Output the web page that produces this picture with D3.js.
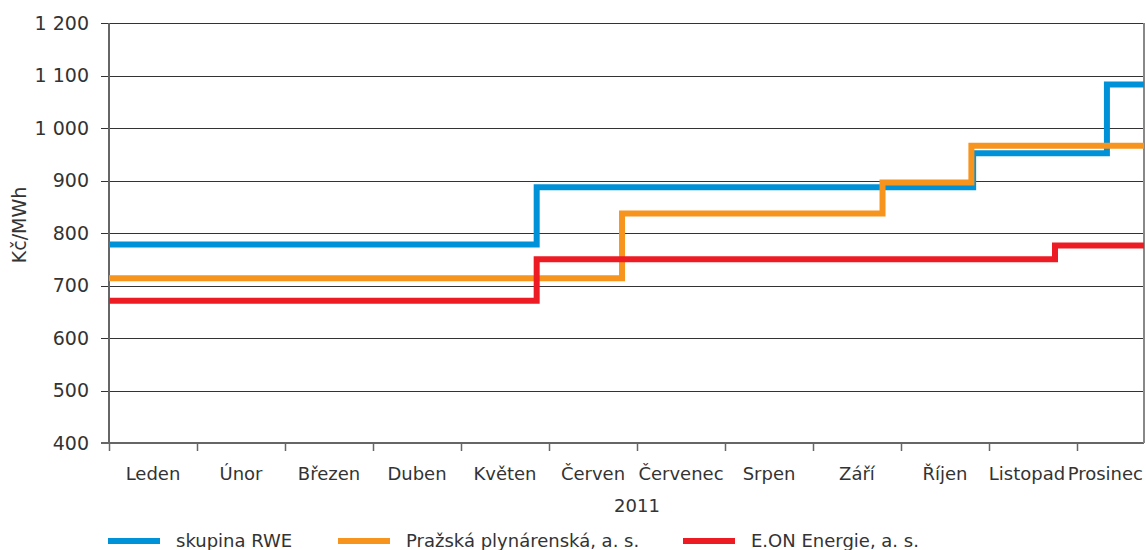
<!DOCTYPE html>
<html>
<head>
<meta charset="utf-8">
<script src="https://cdn.jsdelivr.net/npm/d3@7"></script>
<style>
  body { margin: 0; background: #fff; }
  svg { display: block; }
  svg text { font-family: "DejaVu Sans", sans-serif; }
</style>
</head>
<body>
<div id="chart"></div>
<script>
// Ceny plynu 2011
const months = ['Leden', 'Únor', 'Březen', 'Duben', 'Květen', 'Červen',
                'Červenec', 'Srpen', 'Září', 'Říjen', 'Listopad', 'Prosinec'];
const yTicks = [400, 500, 600, 700, 800, 900, 1000, 1100, 1200];

// body změny ceny (měsíc jako desetinné číslo od 1. ledna)
const rweDates = [0, 4.86, 9.82, 11.34, 12];
const rweValues = [778, 887, 952, 1083, 1083];
const pplDates = [0, 5.83, 8.79, 9.80, 12];
const pplValues = [714, 837, 896, 966, 966];
const eonDates = [0, 4.86, 10.75, 12];
const eonValues = [671, 750, 776, 776];

const seriesNames = ['skupina RWE', 'Pražská plynárenská, a. s.', 'E.ON Energie, a. s.'];
const seriesColors = ['#0092d8', '#f7941d', '#ed1c24'];

const width = 1146;
const height = 550;
const margin = { top: 23, left: 109 };
const chartHeight = 420;
const fullWidth = 1056;      // 12 měsíců
const visibleWidth = 1035;   // graf je vpravo oříznutý

const svg = d3.select('#chart').append('svg')
    .attr('width', width)
    .attr('height', height);

const g = svg.append('g')
    .attr('transform', `translate(${margin.left},${margin.top})`);

const x = d3.scaleLinear().domain([0, 12]).range([0, fullWidth]);
const y = d3.scaleLinear().domain([400, 1200]).range([chartHeight, 0]);

// Mřížka
g.selectAll('.grid')
    .data(yTicks)
    .enter()
    .append('line')
    .attr('class', 'grid')
    .attr('x1', -8)
    .attr('x2', visibleWidth)
    .attr('y1', d => Math.round(y(d)) + 0.5)
    .attr('y2', d => Math.round(y(d)) + 0.5)
    .attr('stroke', d => d === 400 ? '#666' : '#333')
    .attr('stroke-width', 1);

// Osa Y
const yAxis = g.append('g')
    .call(d3.axisLeft(y).tickValues(yTicks).tickSize(0).tickPadding(20)
        .tickFormat(d => d3.format(',')(d).replace(',', ' ')));
yAxis.select('.domain').remove();
yAxis.selectAll('text')
    .attr('fill', '#333')
    .attr('font-family', '"DejaVu Sans", sans-serif')
    .attr('font-size', 19);

// Osa X - čárky na hranicích měsíců
const xAxis = g.append('g')
    .attr('transform', `translate(0,${chartHeight})`)
    .call(d3.axisBottom(x).tickValues(d3.range(0, 12)).tickSize(8).tickFormat(''));
xAxis.select('.domain').remove();
xAxis.selectAll('.tick line').attr('stroke', '#666').attr('stroke-width', 1.5);

// popisky měsíců uprostřed, poslední zarovnaný k pravému okraji
g.selectAll('.month')
    .data(months)
    .enter()
    .append('text')
    .attr('class', 'month')
    .attr('x', (d, i) => i === months.length - 1 ? visibleWidth - 1
        : i === months.length - 2 ? (x(i) + x(i + 1)) / 2 - 6
        : (x(i) + x(i + 1)) / 2)
    .attr('y', chartHeight + 37)
    .attr('text-anchor', (d, i) => i === months.length - 1 ? 'end' : 'middle')
    .attr('fill', '#333')
    .style('font-size', '18px')
    .text(d => d);

// Rámeček os
g.append('line')
    .attr('x1', 0).attr('x2', 0).attr('y1', 0).attr('y2', chartHeight)
    .attr('stroke', '#666').attr('stroke-width', 2);
g.append('line')
    .attr('x1', -8).attr('x2', visibleWidth).attr('y1', chartHeight).attr('y2', chartHeight)
    .attr('stroke', '#666').attr('stroke-width', 2);
g.append('line')
    .attr('x1', visibleWidth).attr('x2', visibleWidth).attr('y1', 0).attr('y2', chartHeight)
    .attr('stroke', '#888').attr('stroke-width', 2);

// Čáry
svg.append('clipPath').attr('id', 'clip')
    .append('rect').attr('x', -4).attr('y', -10)
    .attr('width', visibleWidth + 4).attr('height', chartHeight + 20);

const series = [
    { dates: rweDates, values: rweValues },
    { dates: pplDates, values: pplValues },
    { dates: eonDates, values: eonValues }
];

const line = d3.line()
    .x(d => x(d[0]))
    .y(d => y(d[1]))
    .curve(d3.curveStepAfter);

g.append('g').attr('clip-path', 'url(#clip)')
    .selectAll('.series')
    .data(series)
    .enter()
    .append('path')
    .attr('class', 'series')
    .attr('fill', 'none')
    .attr('stroke', (d, i) => seriesColors[i])
    .attr('stroke-width', 6)
    .attr('stroke-linejoin', 'miter')
    .attr('d', d => line(d.dates.map((t, i) => [t, d.values[i]])));

// Titulky os
svg.append('text')
    .attr('transform', `translate(26,${margin.top + chartHeight / 2 - 8}) rotate(-90)`)
    .attr('text-anchor', 'middle')
    .attr('fill', '#333')
    .style('font-size', '19px')
    .text('Kč/MWh');

svg.append('text')
    .attr('x', margin.left + fullWidth / 2)
    .attr('y', margin.top + chartHeight + 69)
    .attr('text-anchor', 'middle')
    .attr('fill', '#333')
    .style('font-size', '18px')
    .text('2011');

// Legenda
const legendX = [108, 338, 683];
const legend = svg.selectAll('.legend')
    .data(seriesNames)
    .enter()
    .append('g')
    .attr('class', 'legend')
    .attr('transform', (d, i) => `translate(${legendX[i]},541)`);

legend.append('line')
    .attr('x1', 0).attr('x2', 52)
    .attr('stroke', (d, i) => seriesColors[i])
    .attr('stroke-width', 6);

legend.append('text')
    .attr('x', 68)
    .attr('y', 6)
    .attr('fill', '#333')
    .style('font-size', '18px')
    .text(d => d);
</script>
</body>
</html>
